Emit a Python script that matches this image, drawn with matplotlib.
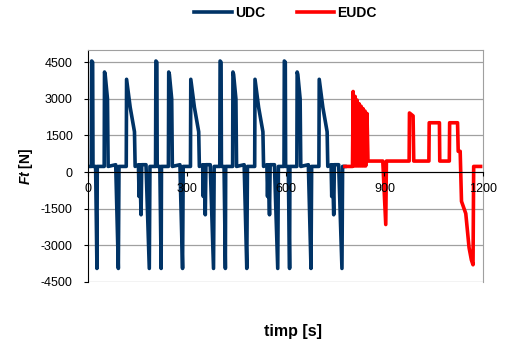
import matplotlib.pyplot as plt

plt.rcParams["font.family"] = ["Liberation Sans", "DejaVu Sans"]
plt.rcParams["axes.unicode_minus"] = False
plt.rcParams["mathtext.fontset"] = "custom"
plt.rcParams["mathtext.rm"] = "Liberation Sans"
plt.rcParams["mathtext.it"] = "Liberation Sans:italic"
plt.rcParams["mathtext.bf"] = "Liberation Sans:bold"
plt.rcParams["mathtext.bfit"] = "Liberation Sans:bold:italic"

# UDC: four urban cycles (time [s], traction force [N])
udc_t = [0, 10, 11, 14, 15, 23, 27, 28, 49, 50, 52, 59, 61, 84, 92, 94,
         116, 117, 128, 141, 143, 153, 155, 157, 161, 163, 176, 186, 188,
         205, 206, 209, 210, 218, 222, 223, 244, 245, 247, 254, 256, 279, 287, 289,
         311, 312, 323, 336, 338, 348, 350, 352, 356, 358, 371, 381, 383,
         400, 401, 404, 405, 413, 417, 418, 439, 440, 442, 449, 451, 474, 482, 484,
         506, 507, 518, 531, 533, 543, 545, 547, 551, 553, 566, 576, 578,
         595, 596, 599, 600, 608, 612, 613, 634, 635, 637, 644, 646, 669, 677, 679,
         701, 702, 713, 726, 728, 738, 740, 742, 746, 748, 761, 771, 773, 780]
udc_f = [230, 230, 4550, 4500, 230, 230, -3950, 230, 230, 4100, 4000, 3000, 230, 300, -3950, 230,
         230, 3800, 2650, 1650, 230, 300, -1000, 300, -1750, 300, 300, -3950, 230,
         230, 4550, 4500, 230, 230, -3950, 230, 230, 4100, 4000, 3000, 230, 300, -3950, 230,
         230, 3800, 2650, 1650, 230, 300, -1000, 300, -1750, 300, 300, -3950, 230,
         230, 4550, 4500, 230, 230, -3950, 230, 230, 4100, 4000, 3000, 230, 300, -3950, 230,
         230, 3800, 2650, 1650, 230, 300, -1000, 300, -1750, 300, 300, -3950, 230,
         230, 4550, 4500, 230, 230, -3950, 230, 230, 4100, 4000, 3000, 230, 300, -3950, 230,
         230, 3800, 2650, 1650, 230, 300, -1000, 300, -1750, 300, 300, -3950, 230, 230]

# EUDC: extra-urban cycle
eudc_t = [780, 803, 805, 807, 811, 813, 817, 819, 823, 825, 829, 831, 835, 837,
          841, 843, 847, 850, 895, 904, 906, 975, 976, 987, 989, 1035, 1036,
          1067, 1068, 1097, 1098, 1122, 1124, 1130, 1134, 1147, 1157, 1164,
          1169, 1171, 1192]
eudc_f = [230, 230, 3300, 250, 3100, 250, 2950, 250, 2800, 250, 2700, 250, 2600, 250,
          2500, 250, 2400, 450, 450, -2150, 450, 450, 2420, 2300, 450, 450, 2020,
          2020, 450, 450, 2020, 2020, 850, 850, -1200, -1700, -3100, -3600,
          -3800, 230, 230]

y_ticks = [-4500, -3000, -1500, 0, 1500, 3000, 4500]
x_ticks = [0, 300, 600, 900, 1200]

fig = plt.figure(figsize=(5.06, 3.45), dpi=100)
ax = fig.add_axes([0.174, 0.183, 0.781, 0.672])
ax.set_axisbelow(False)  # tick labels over the curves

# gridlines drawn by hand so they sit under the data
for y in y_ticks:
    ax.axhline(y, color="#a0a0a0", lw=0.9, zorder=1)

ax.plot(udc_t, udc_f, color="#003366", lw=2.6, label="UDC", zorder=2)
ax.plot(eudc_t, eudc_f, color="#ff0000", lw=2.6, label="EUDC", zorder=2)

ax.set_xlim(0, 1200)
ax.set_ylim(-4500, 5000)
ax.set_yticks(y_ticks)
ax.set_xticks(x_ticks)

ax.spines["bottom"].set_position(("data", 0))
ax.spines["bottom"].set_color("black")
ax.spines["left"].set_color("black")
ax.spines["top"].set_color("#a0a0a0")
ax.spines["right"].set_color("#a0a0a0")
ax.tick_params(axis="y", direction="out", length=3, pad=8, labelsize=9)
ax.tick_params(axis="x", direction="out", length=3, pad=5, labelsize=9)

ax.set_ylabel(r"$\mathbfit{Ft}$ [N]", fontsize=10, fontweight="bold", labelpad=4)
fig.text(0.58, 0.038, "timp [s]", fontsize=11.5, fontweight="bold", ha="center", va="center")

fig.legend(loc="center", bbox_to_anchor=(0.564, 0.962), ncol=2, frameon=False,
           handlelength=2.7, handletextpad=0.2, columnspacing=2.3,
           prop={"weight": "bold", "size": 10})

fig.savefig("out.png", dpi=100)
